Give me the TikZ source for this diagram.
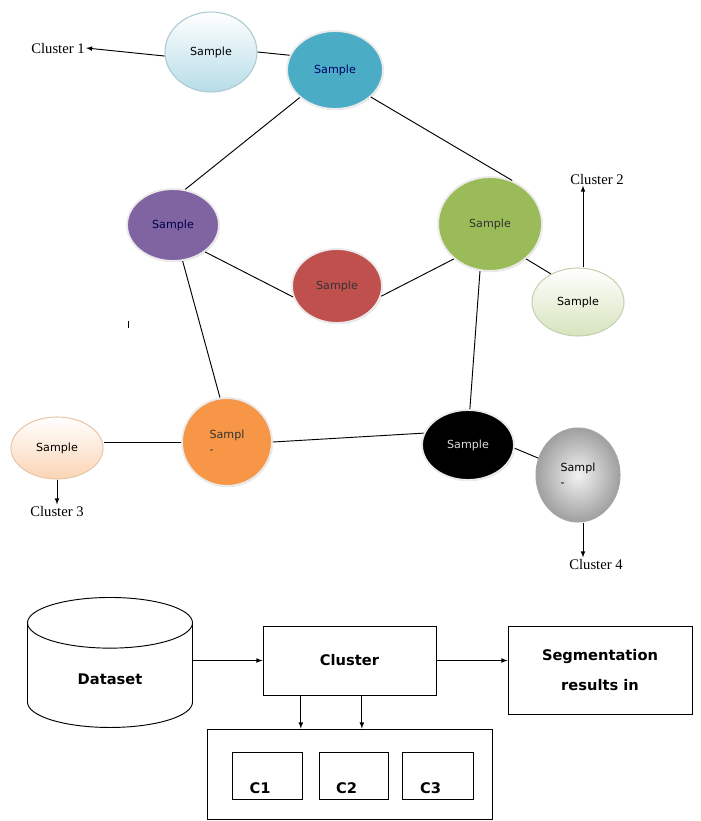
\documentclass[tikz,border=0pt]{standalone}
\usepackage{fontspec}
\setmainfont{Liberation Serif}
\newfontfamily\samplefont{DejaVu Sans}
\usetikzlibrary{shapes.geometric,shadows}

\definecolor{tealS}{HTML}{4BACC6}
\definecolor{purpleS}{HTML}{8064A2}
\definecolor{redS}{HTML}{C0504D}
\definecolor{greenS}{HTML}{9BBB59}
\definecolor{orangeS}{HTML}{F79646}
\definecolor{paleblue}{HTML}{B7DDE8}
\definecolor{palegreen}{HTML}{D7E4BD}
\definecolor{paleorange}{HTML}{FBD4B4}

\begin{document}
\begin{tikzpicture}[x=0.03cm,y=-0.03cm,>=latex,
    sample/.style={ellipse,inner sep=0pt,line width=1.6pt,
      font=\samplefont\fontsize{9.5}{13}\selectfont},
    dark/.style={sample,draw=white!92!black,
      drop shadow={shadow xshift=0.7pt,shadow yshift=-0.9pt,opacity=0.3}},
    pale/.style={sample,line width=0.9pt},
    clabel/.style={font=\fontsize{12.5}{14}\selectfont,inner sep=1pt},
    box/.style={draw,line width=0.8pt,align=center,
      font=\samplefont\bfseries\fontsize{12.5}{26}\selectfont},
    edge/.style={line width=0.8pt}]
    \useasboundingbox (0,0) rectangle (700,821);

    % cluster graph
    \node[pale,draw=paleblue!80!gray,top color=white,bottom color=paleblue,
      minimum width=2.76cm,minimum height=2.4cm] (s1) at (211,52) {Sample};
    \node[dark,fill=tealS,text=blue!40!black,
      minimum width=2.88cm,minimum height=2.34cm] (s2) at (335,70) {Sample};
    \node[dark,fill=purpleS,text=blue!30!black,
      minimum width=2.76cm,minimum height=2.16cm] (pu) at (173,225) {Sample};
    \node[dark,fill=redS,text=black!80,
      minimum width=2.7cm,minimum height=2.22cm] (rd) at (337,286) {Sample};
    \node[dark,fill=greenS,text=black!80,
      minimum width=3.12cm,minimum height=2.82cm] (gr) at (490,224) {Sample};
    \node[pale,draw=palegreen!80!gray,top color=white,bottom color=palegreen,
      minimum width=2.76cm,minimum height=2.04cm] (lg) at (578,302) {Sample};
    \node[pale,draw=paleorange!85!gray,top color=white,bottom color=paleorange,
      minimum width=2.76cm,minimum height=1.86cm] (lo) at (57,448) {Sample};
    \node[dark,fill=orangeS,text=black!80,align=left,
      minimum width=2.7cm,minimum height=2.64cm] (or) at (227,442) {Sampl\\-};
    \node[dark,fill=black,text=white!85!black,
      minimum width=2.76cm,minimum height=2.1cm] (bk) at (468,445) {Sample};
    \node[pale,draw=gray!70,inner color=gray!10,outer color=gray!75,align=left,
      minimum width=2.52cm,minimum height=2.82cm] (gy) at (578,475) {Sampl\\-};

    \node[clabel] (c1) at (58,48) {Cluster 1};
    \node[clabel] (c2) at (597,179) {Cluster 2};
    \node[clabel] (c3) at (57,511) {Cluster 3};
    \node[clabel] (c4) at (596,564) {Cluster 4};

    \draw[edge] (s1.east) -- (s2.162);
    \draw[edge] (s2.218) -- (pu.71);
    \draw[edge] (s2.-37) -- (gr.63);
    \draw[edge] (pu.-40) -- (rd.194);
    \draw[edge] (rd.-13) -- (gr.224);
    \draw[edge] (gr.-44) -- (lg.134);
    \draw[edge] (pu.-75) -- (or.99);
    \draw[edge] (gr.-102) -- (bk.87);
    \draw[edge] (lo.east |- or.west) -- (or.west);
    \draw[edge] (or.east) -- (bk.165);
    \draw[edge] (bk.-4) -- (gy.157);

    \draw[edge,->] (s1.185) -- (c1.east);
    \draw[edge,->] ([xshift=0.15cm]lg.north) -- ([xshift=0.15cm]lg.north |- c2.south);
    \draw[edge,->] (lo.south) -- (lo.south |- c3.north);
    \draw[edge,->] ([xshift=0.15cm]gy.south) -- ([xshift=0.15cm]gy.south |- c4.north);

    \draw[line width=0.6pt] (128,321) -- (128,328);

    % pipeline
    \node[box,cylinder,shape border rotate=90,aspect=0.7,anchor=north,
      minimum width=4.95cm,minimum height=3.9cm] (ds) at (110,597) {Dataset};
    \node[box,minimum width=5.19cm,minimum height=2.07cm] (cl) at (349.5,660.5) {Cluster};
    \node[box,minimum width=5.52cm,minimum height=2.64cm] (sg) at (600,670) {Segmentation\\results in};
    \node[draw,line width=0.8pt,minimum width=8.55cm,minimum height=2.7cm] (ob) at (349.5,774) {};

    \foreach \name/\cx/\w in {C1/267/2.1cm,C2/353.5/2.07cm,C3/437.5/2.13cm}
      \node[draw,line width=0.8pt,minimum width=\w,minimum height=1.41cm,
        label={[xshift=-0.21cm,yshift=-0.37cm,font=\samplefont\bfseries\fontsize{12.5}{14}\selectfont]center:\name}]
        (\name) at (\cx,775.5) {};

    \draw[edge,->] (ds.east |- cl.west) -- (cl.west);
    \draw[edge,->] (cl.east) -- (cl.east -| sg.west);
    \draw[edge,->] ([xshift=-1.46cm]cl.south) -- ([xshift=-1.46cm]cl.south |- ob.north);
    \draw[edge,->] ([xshift=0.37cm]cl.south) -- ([xshift=0.37cm]cl.south |- ob.north);

\end{tikzpicture}
\end{document}
